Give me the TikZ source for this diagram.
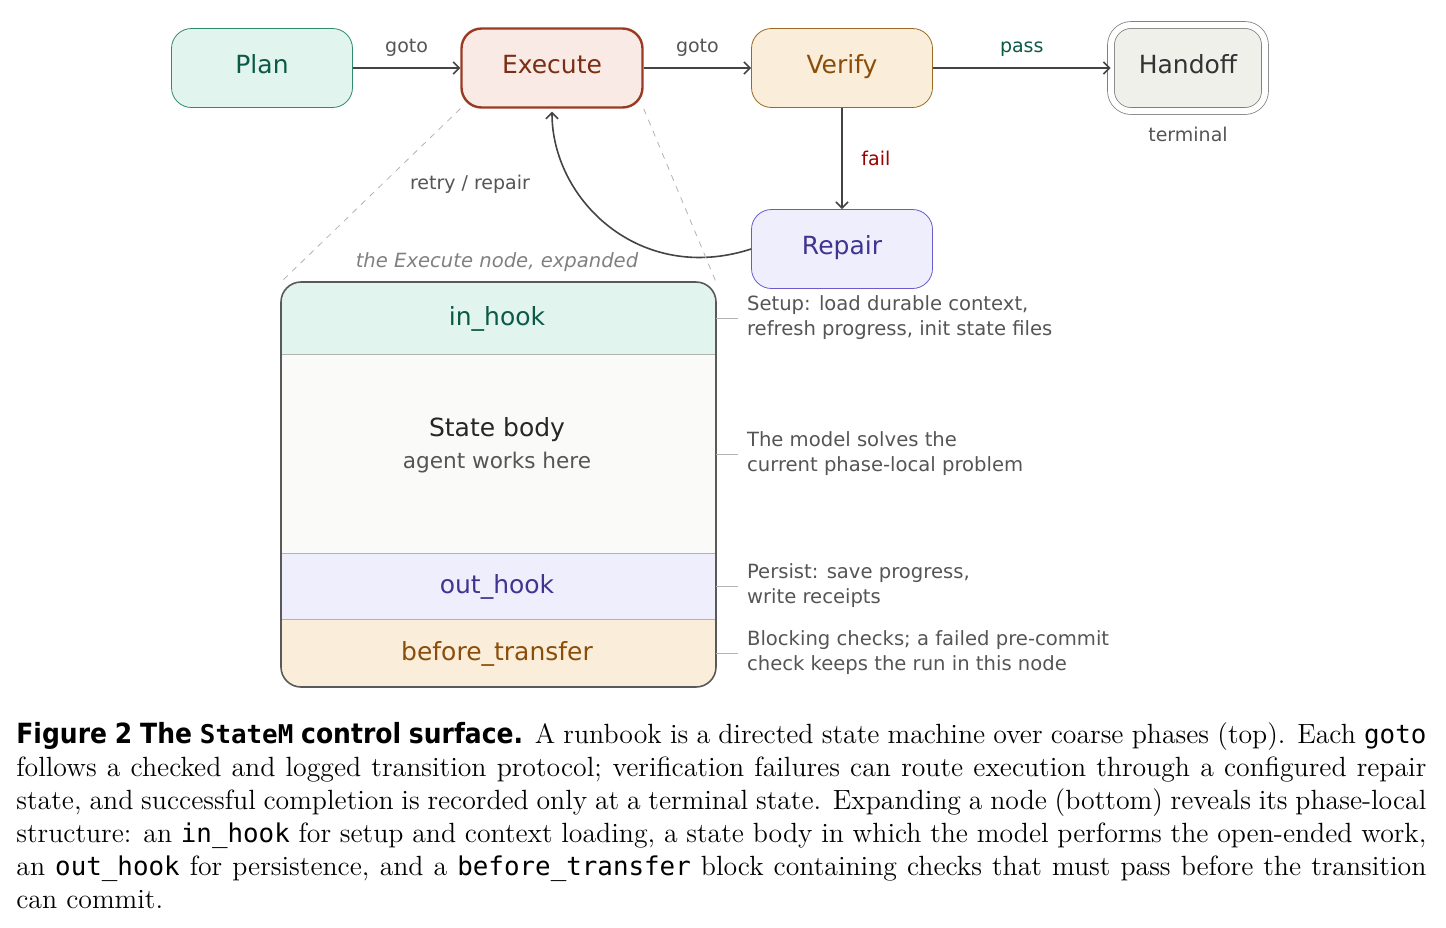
\documentclass[tikz,border=0pt]{standalone}
\usepackage{fontspec}
\setmainfont{Latin Modern Roman}
\setsansfont{DejaVu Sans}
\setmonofont[Scale=0.93]{DejaVu Sans Mono}
\newfontfamily\capsans{DejaVu Sans Condensed}
\usetikzlibrary{arrows.meta}
\definecolor{planfill}{HTML}{E2F4EE}\definecolor{plandraw}{HTML}{2E8B6E}\definecolor{plantext}{HTML}{0B5A45}
\definecolor{exefill}{HTML}{F9EAE6}\definecolor{exedraw}{HTML}{9A3A22}\definecolor{exetext}{HTML}{7A2E14}
\definecolor{verfill}{HTML}{FAEEDB}\definecolor{verdraw}{HTML}{9A6A22}\definecolor{vertext}{HTML}{8B4E0A}
\definecolor{repfill}{HTML}{EEEEFC}\definecolor{repdraw}{HTML}{6A5ACD}\definecolor{reptext}{HTML}{3D3590}
\definecolor{hanfill}{HTML}{F0F0EA}\definecolor{bodyfill}{HTML}{FAFAF8}
\definecolor{labgray}{HTML}{555555}\definecolor{edge}{HTML}{444444}
\tikzset{
  state/.style={draw, rounded corners=10pt, minimum width=90.5pt, minimum height=39.5pt,
    text height=9pt, text depth=3.5pt, font=\sffamily\fontsize{12.5}{14}\selectfont},
  lab/.style={font=\sffamily\fontsize{9.5}{11}\selectfont, text=labgray},
  note/.style={font=\sffamily\fontsize{9.8}{12.5}\selectfont, text=labgray, align=left, anchor=west},
  trans/.style={-{Straight Barb[length=3pt,width=6pt]}, edge, line width=0.8pt},
  tick/.style={gray!60, line width=0.5pt},
}
\begin{document}
\begin{tikzpicture}[x=0.5pt, y=-0.5pt]
  \useasboundingbox (0,0) rectangle (1446,927);
  % top row
  \node[state, fill=planfill, draw=plandraw, text=plantext] (plan) at (262,68) {Plan};
  \node[state, fill=exefill, draw=exedraw, text=exetext, line width=1.2pt] (exec) at (552,68) {Execute};
  \node[state, fill=verfill, draw=verdraw, text=vertext] (verify) at (842,68) {Verify};
  \node[state, fill=hanfill, draw=gray, minimum width=77pt, minimum height=43pt,
    double=white, double distance=3pt, text=black!80] (hand) at (1188,68) {Handoff};
  \node[lab] (term) at (1188,134) {terminal};
  \node[state, fill=repfill, draw=repdraw, text=reptext] (repair) at (842,249) {Repair};
  \draw[trans] (plan) -- node[lab, above=2pt] {goto} (exec);
  \draw[trans] (exec) -- node[lab, above=2pt] {goto} (verify);
  \draw[trans] (verify) -- node[lab, above=2pt, text=plantext] {pass} (hand);
  \draw[trans] (verify) -- node[lab, right=6pt, text=red!60!black] {fail} (repair);
  \draw[trans] (repair.west) .. controls (640,285) and (552,200) .. ([yshift=-1.5pt]exec.south);
  \node[lab] (retry) at (470,184) {retry / repair};
  % expanded view
  \coordinate (bl) at (281,282);
  \coordinate (br) at (716,282);
  \draw[gray!60, dashed] (exec.south west) -- (bl);
  \draw[gray!60, dashed] (exec.south east) -- (br);
  \node[lab, font=\sffamily\itshape\fontsize{9.8}{11}\selectfont, text=gray] (cap) at (497,262) {the Execute node, expanded};
  \begin{scope}
    \clip[rounded corners=10pt] (281,282) rectangle (716,687);
    \fill[planfill] (281,282) rectangle (716,354);
    \fill[bodyfill] (281,354) rectangle (716,553);
    \fill[repfill] (281,553) rectangle (716,619);
    \fill[verfill] (281,619) rectangle (716,687);
  \end{scope}
  \draw[gray!60] (281,354) -- (716,354) (281,553) -- (716,553) (281,619) -- (716,619);
  \draw[black!65, line width=0.8pt, rounded corners=10pt] (281,282) rectangle (716,687);
  \node[font=\sffamily\fontsize{12.5}{14}\selectfont, text=plantext] (inh) at (497,319) {in\_hook};
  \node[font=\sffamily\fontsize{12.5}{14}\selectfont, text=black!85] (body) at (497,430) {State body};
  \node[lab, font=\sffamily\fontsize{10.8}{12}\selectfont] (bodysub) at (497,463) {agent works here};
  \node[font=\sffamily\fontsize{12.5}{14}\selectfont, text=reptext] (outh) at (497,587) {out\_hook};
  \node[font=\sffamily\fontsize{12.5}{14}\selectfont, text=vertext] (bt) at (497,654) {before\_transfer};
  % notes
  \foreach \yy/\txt in {318/{Setup: load durable context,\\refresh progress, init state files},
      454/{The model solves the\\current phase-local problem},
      586/{Persist: save progress,\\write receipts},
      653/{Blocking checks; a failed pre-commit\\check keeps the run in this node}} {
    \draw[tick] (716,\yy) -- (738,\yy);
    \node[note] at (740,\yy) {\txt};
  }
  % caption
  \node[anchor=north west, text width=705pt, align=justify, inner sep=0pt,
    font=\fontsize{13.9}{16.5}\selectfont] (figcap) at (16,722)
    {{\capsans\bfseries Figure 2 The \texttt{StateM} control surface.} A runbook is a directed state machine over coarse phases (top). Each \texttt{goto} follows a checked and logged transition protocol; verification failures can route execution through a configured repair state, and successful completion is recorded only at a terminal state. Expanding a node (bottom) reveals its phase-local structure: an \texttt{in\_hook} for setup and context loading, a state body in which the model performs the open-ended work, an \texttt{out\_hook} for persistence, and a \texttt{before\_transfer} block containing checks that must pass before the transition can commit.};
\end{tikzpicture}
\end{document}
